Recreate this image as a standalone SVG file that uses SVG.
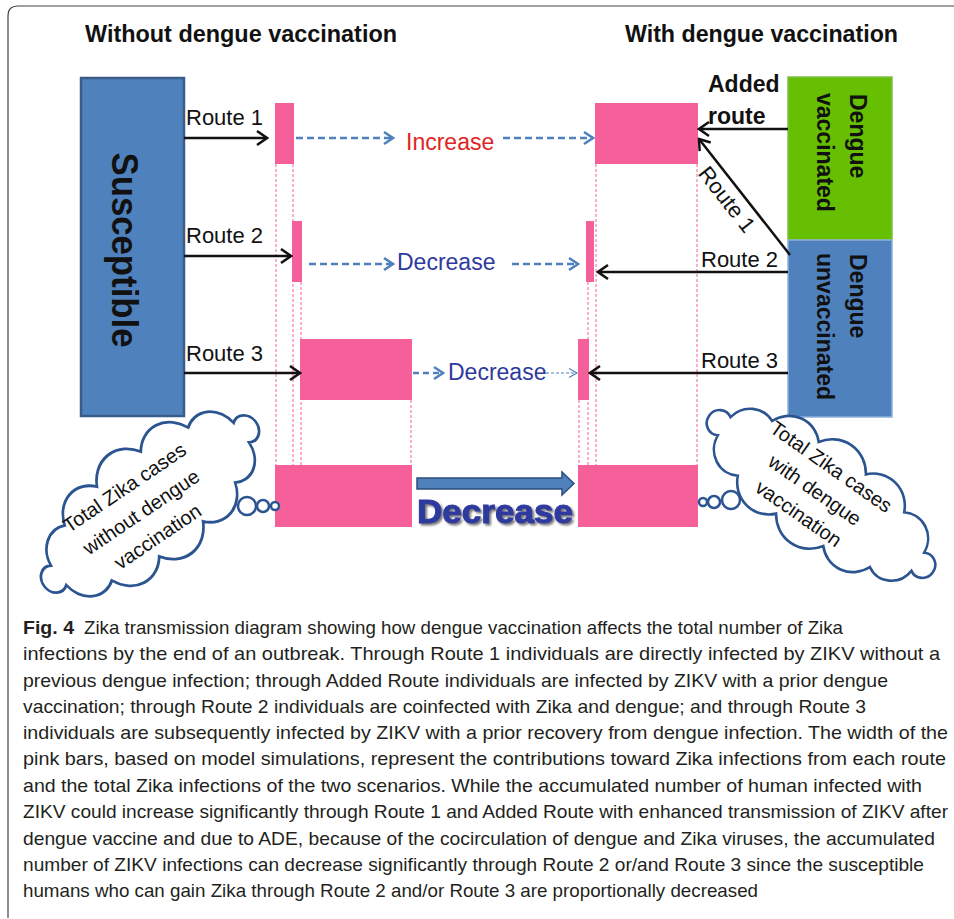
<svg xmlns="http://www.w3.org/2000/svg" width="954" height="919" viewBox="0 0 954 919">
<style>
.hd{font-family:"Liberation Sans",Arial,sans-serif;font-weight:bold;font-size:24px;fill:#111}
.bt{font-family:"Liberation Sans",Arial,sans-serif;font-weight:bold;font-size:23px;fill:#111}
.rt{font-family:"Liberation Sans",Arial,sans-serif;font-size:22px;fill:#111}
.cl{font-family:"Liberation Sans",Arial,sans-serif;font-size:20px;fill:#111}
.cap{font-family:"Liberation Sans",Arial,sans-serif;font-size:19px;fill:#231f20}
.pink{fill:#f5609b}
.guide{stroke:#f5609b;stroke-width:1;stroke-dasharray:3 2;fill:none}
.blk{stroke:#111;stroke-width:2.5;fill:none}
.bd{stroke:#4f81bd;stroke-width:2.5;fill:none;stroke-dasharray:7 4}
.cloud{fill:#fff;stroke:#2c5490;stroke-width:2.5}
.bub{fill:#fff;stroke:#2c5490;stroke-width:2.5}
</style>
<defs>
<marker id="ah" viewBox="-13 -9 15 18" refX="0" refY="0" markerWidth="15" markerHeight="18" orient="auto" markerUnits="userSpaceOnUse">
<path d="M-10,-7 L0,0 L-10,7" fill="none" stroke="#111" stroke-width="2.5"/>
</marker>
<marker id="bh" viewBox="-12 -8 14 16" refX="0" refY="0" markerWidth="14" markerHeight="16" orient="auto" markerUnits="userSpaceOnUse">
<path d="M-9,-6 L0,0 L-9,6" fill="none" stroke="#4f81bd" stroke-width="2.5"/>
</marker>
<marker id="bs" viewBox="-10 -6 12 12" refX="0" refY="0" markerWidth="12" markerHeight="12" orient="auto" markerUnits="userSpaceOnUse">
<path d="M-8,-4.5 L0,0 L-8,4.5" fill="none" stroke="#4f81bd" stroke-width="1.2"/>
</marker>
<filter id="sh" x="-10%" y="-20%" width="130%" height="150%">
<feDropShadow dx="2" dy="2" stdDeviation="1" flood-color="#555" flood-opacity="0.8"/>
</filter>
<path id="cloudp" d="M115.9,10.4 A24,24 0 0 1 80.3,29.7 A30,30 0 0 1 31.1,38.6 A34,34 0 0 1 -25,39.1 A32,32 0 0 1 -77.1,30.6 A26,26 0 0 1 -115.9,10.4 A12,12 0 1 1 -115.9,-10.4 A26,26 0 0 1 -80.3,-29.7 A30,30 0 0 1 -31.1,-38.6 A34,34 0 0 1 25,-39.1 A32,32 0 0 1 77.1,-30.6 A26,26 0 0 1 115.9,-10.4 A12,12 0 1 1 115.9,10.4 Z"/>
</defs>

<rect width="954" height="919" fill="#fff"/>
<path d="M8,918 L8,16 Q8,6 18,6 L954,6" fill="none" stroke="#444" stroke-width="1.2"/>

<g id="headings">
<text class="hd" x="85" y="42" textLength="312" lengthAdjust="spacingAndGlyphs">Without dengue vaccination</text>
<text class="hd" x="625" y="42" textLength="273" lengthAdjust="spacingAndGlyphs">With dengue vaccination</text>
</g>

<g id="susceptible">
<rect x="81" y="78" width="103" height="338" fill="#4f81bd" stroke="#385d8a" stroke-width="2.5"/>
<text class="bt" style="font-size:36px" transform="translate(112,250) rotate(90)" text-anchor="middle" textLength="195" lengthAdjust="spacingAndGlyphs">Susceptible</text>
</g>

<g id="dengue-vaccinated">
<rect x="788" y="77" width="104" height="163" fill="#66bf00" stroke="#7fc04a" stroke-width="1.5"/>
<text class="bt" transform="translate(850,94) rotate(90)">Dengue</text>
<text class="bt" transform="translate(817,93) rotate(90)">vaccinated</text>
</g>

<g id="dengue-unvaccinated">
<rect x="788" y="240" width="104" height="177" fill="#4f81bd" stroke="#8db0dc" stroke-width="1.5"/>
<text class="bt" transform="translate(850,254) rotate(90)">Dengue</text>
<text class="bt" transform="translate(817,253) rotate(90)">unvaccinated</text>
</g>

<g id="guides">
<path class="guide" d="M276,164 V465 M293,164 V465 M301,282 V465 M411,400 V465 M579,400 V465 M588,282 V465 M596,164 V465 M697,164 V465"/>
</g>

<g id="bars-without">
<rect class="pink" x="275" y="103" width="19" height="61"/>
<rect class="pink" x="292" y="221" width="10" height="61"/>
<rect class="pink" x="300" y="339" width="112" height="61"/>
<rect class="pink" x="275" y="465" width="137" height="62"/>
</g>
<g id="bars-with">
<rect class="pink" x="595" y="103" width="103" height="61"/>
<rect class="pink" x="586" y="221" width="8" height="61"/>
<rect class="pink" x="578" y="339" width="11" height="61"/>
<rect class="pink" x="578" y="465" width="120" height="62"/>
</g>

<g id="connectors">
<line class="blk" x1="184" y1="138" x2="267" y2="138" marker-end="url(#ah)"/>
<line class="blk" x1="184" y1="256" x2="291" y2="256" marker-end="url(#ah)"/>
<line class="blk" x1="184" y1="373" x2="300" y2="373" marker-end="url(#ah)"/>
<line class="blk" x1="788" y1="129" x2="699" y2="129" marker-end="url(#ah)"/>
<line class="blk" x1="790" y1="255" x2="699" y2="139" marker-end="url(#ah)"/>
<line class="blk" x1="788" y1="272" x2="598" y2="272" marker-end="url(#ah)"/>
<line class="blk" x1="788" y1="373" x2="590" y2="373" marker-end="url(#ah)"/>
<line class="bd" x1="296" y1="138" x2="393" y2="138" marker-end="url(#bh)"/>
<line class="bd" x1="503" y1="138" x2="593" y2="138" marker-end="url(#bh)"/>
<line class="bd" x1="309" y1="264" x2="393" y2="264" marker-end="url(#bh)"/>
<line class="bd" x1="512" y1="264" x2="578" y2="264" marker-end="url(#bh)"/>
<line class="bd" x1="413" y1="373" x2="443" y2="373" marker-end="url(#bh)" style="stroke-dasharray:6 4"/>
<line x1="546" y1="373" x2="577" y2="373" stroke="#4f81bd" stroke-width="1.2" stroke-dasharray="3 2" marker-end="url(#bs)"/>
<path d="M417,478 H562 V472 L574,483.5 L562,495 V489 H417 Z" fill="#4f81bd" stroke="#2c4d7e" stroke-width="1.5"/>
</g>

<g id="route-labels">
<text class="rt" x="186" y="125">Route 1</text>
<text class="rt" x="186" y="243">Route 2</text>
<text class="rt" x="186" y="361">Route 3</text>
<text class="rt" x="701" y="267">Route 2</text>
<text class="rt" x="701" y="368">Route 3</text>
<text class="rt" transform="translate(721,204) rotate(52)" text-anchor="middle">Route 1</text>
<text class="bt" x="708" y="92">Added</text>
<text class="bt" x="708" y="124">route</text>
</g>

<g id="change-labels" font-family="Liberation Sans, Arial, sans-serif" font-size="23">
<text x="406" y="150" fill="#e02424">Increase</text>
<text x="397" y="270" fill="#2e3a9e">Decrease</text>
<text x="448" y="380" fill="#2e3a9e">Decrease</text>
<text x="417" y="523" fill="#2e3a9e" font-weight="900" font-size="34" stroke="#2e3a9e" stroke-width="1" textLength="156" lengthAdjust="spacingAndGlyphs" filter="url(#sh)">Decrease</text>
</g>

<g id="cloud-without">
<use href="#cloudp" class="cloud" transform="translate(150,504) rotate(-38) scale(1,1.2)" style="vector-effect:non-scaling-stroke"/>
<circle class="bub" cx="247" cy="506" r="9"/>
<circle class="bub" cx="263" cy="506" r="6"/>
<circle class="bub" cx="275" cy="506" r="4"/>
<g transform="translate(141,512) rotate(-34)" text-anchor="middle">
<text class="cl" y="-22.5">Total Zika cases</text>
<text class="cl" y="7">without dengue</text>
<text class="cl" y="36.5">vaccination</text>
</g>
</g>

<g id="cloud-with">
<use href="#cloudp" class="cloud" transform="translate(821,494) rotate(35) scale(1.02,1.07)" style="vector-effect:non-scaling-stroke"/>
<circle class="bub" cx="731" cy="500" r="9"/>
<circle class="bub" cx="714" cy="502" r="6"/>
<circle class="bub" cx="703" cy="502" r="4"/>
<g transform="translate(815,490) rotate(35)" text-anchor="middle">
<text class="cl" y="-21.5">Total Zika cases</text>
<text class="cl" y="7">with dengue</text>
<text class="cl" y="35.5">vaccination</text>
</g>
</g>

<g id="caption">
<text class="cap" x="23" y="634" font-weight="bold" textLength="51" lengthAdjust="spacingAndGlyphs">Fig. 4</text>
<text class="cap" x="84" y="634" textLength="759" lengthAdjust="spacingAndGlyphs">Zika transmission diagram showing how dengue vaccination affects the total number of Zika</text>
<text class="cap" x="23" y="660" textLength="917" lengthAdjust="spacingAndGlyphs">infections by the end of an outbreak. Through Route 1 individuals are directly infected by ZIKV without a</text>
<text class="cap" x="23" y="687" textLength="865" lengthAdjust="spacingAndGlyphs">previous dengue infection; through Added Route individuals are infected by ZIKV with a prior dengue</text>
<text class="cap" x="23" y="713" textLength="843" lengthAdjust="spacingAndGlyphs">vaccination; through Route 2 individuals are coinfected with Zika and dengue; and through Route 3</text>
<text class="cap" x="23" y="739" textLength="925" lengthAdjust="spacingAndGlyphs">individuals are subsequently infected by ZIKV with a prior recovery from dengue infection. The width of the</text>
<text class="cap" x="23" y="765" textLength="923" lengthAdjust="spacingAndGlyphs">pink bars, based on model simulations, represent the contributions toward Zika infections from each route</text>
<text class="cap" x="23" y="792" textLength="899" lengthAdjust="spacingAndGlyphs">and the total Zika infections of the two scenarios. While the accumulated number of human infected with</text>
<text class="cap" x="23" y="818" textLength="925" lengthAdjust="spacingAndGlyphs">ZIKV could increase significantly through Route 1 and Added Route with enhanced transmission of ZIKV after</text>
<text class="cap" x="23" y="845" textLength="912" lengthAdjust="spacingAndGlyphs">dengue vaccine and due to ADE, because of the cocirculation of dengue and Zika viruses, the accumulated</text>
<text class="cap" x="23" y="871" textLength="901" lengthAdjust="spacingAndGlyphs">number of ZIKV infections can decrease significantly through Route 2 or/and Route 3 since the susceptible</text>
<text class="cap" x="23" y="897" textLength="735" lengthAdjust="spacingAndGlyphs">humans who can gain Zika through Route 2 and/or Route 3 are proportionally decreased</text>
</g>
</svg>
